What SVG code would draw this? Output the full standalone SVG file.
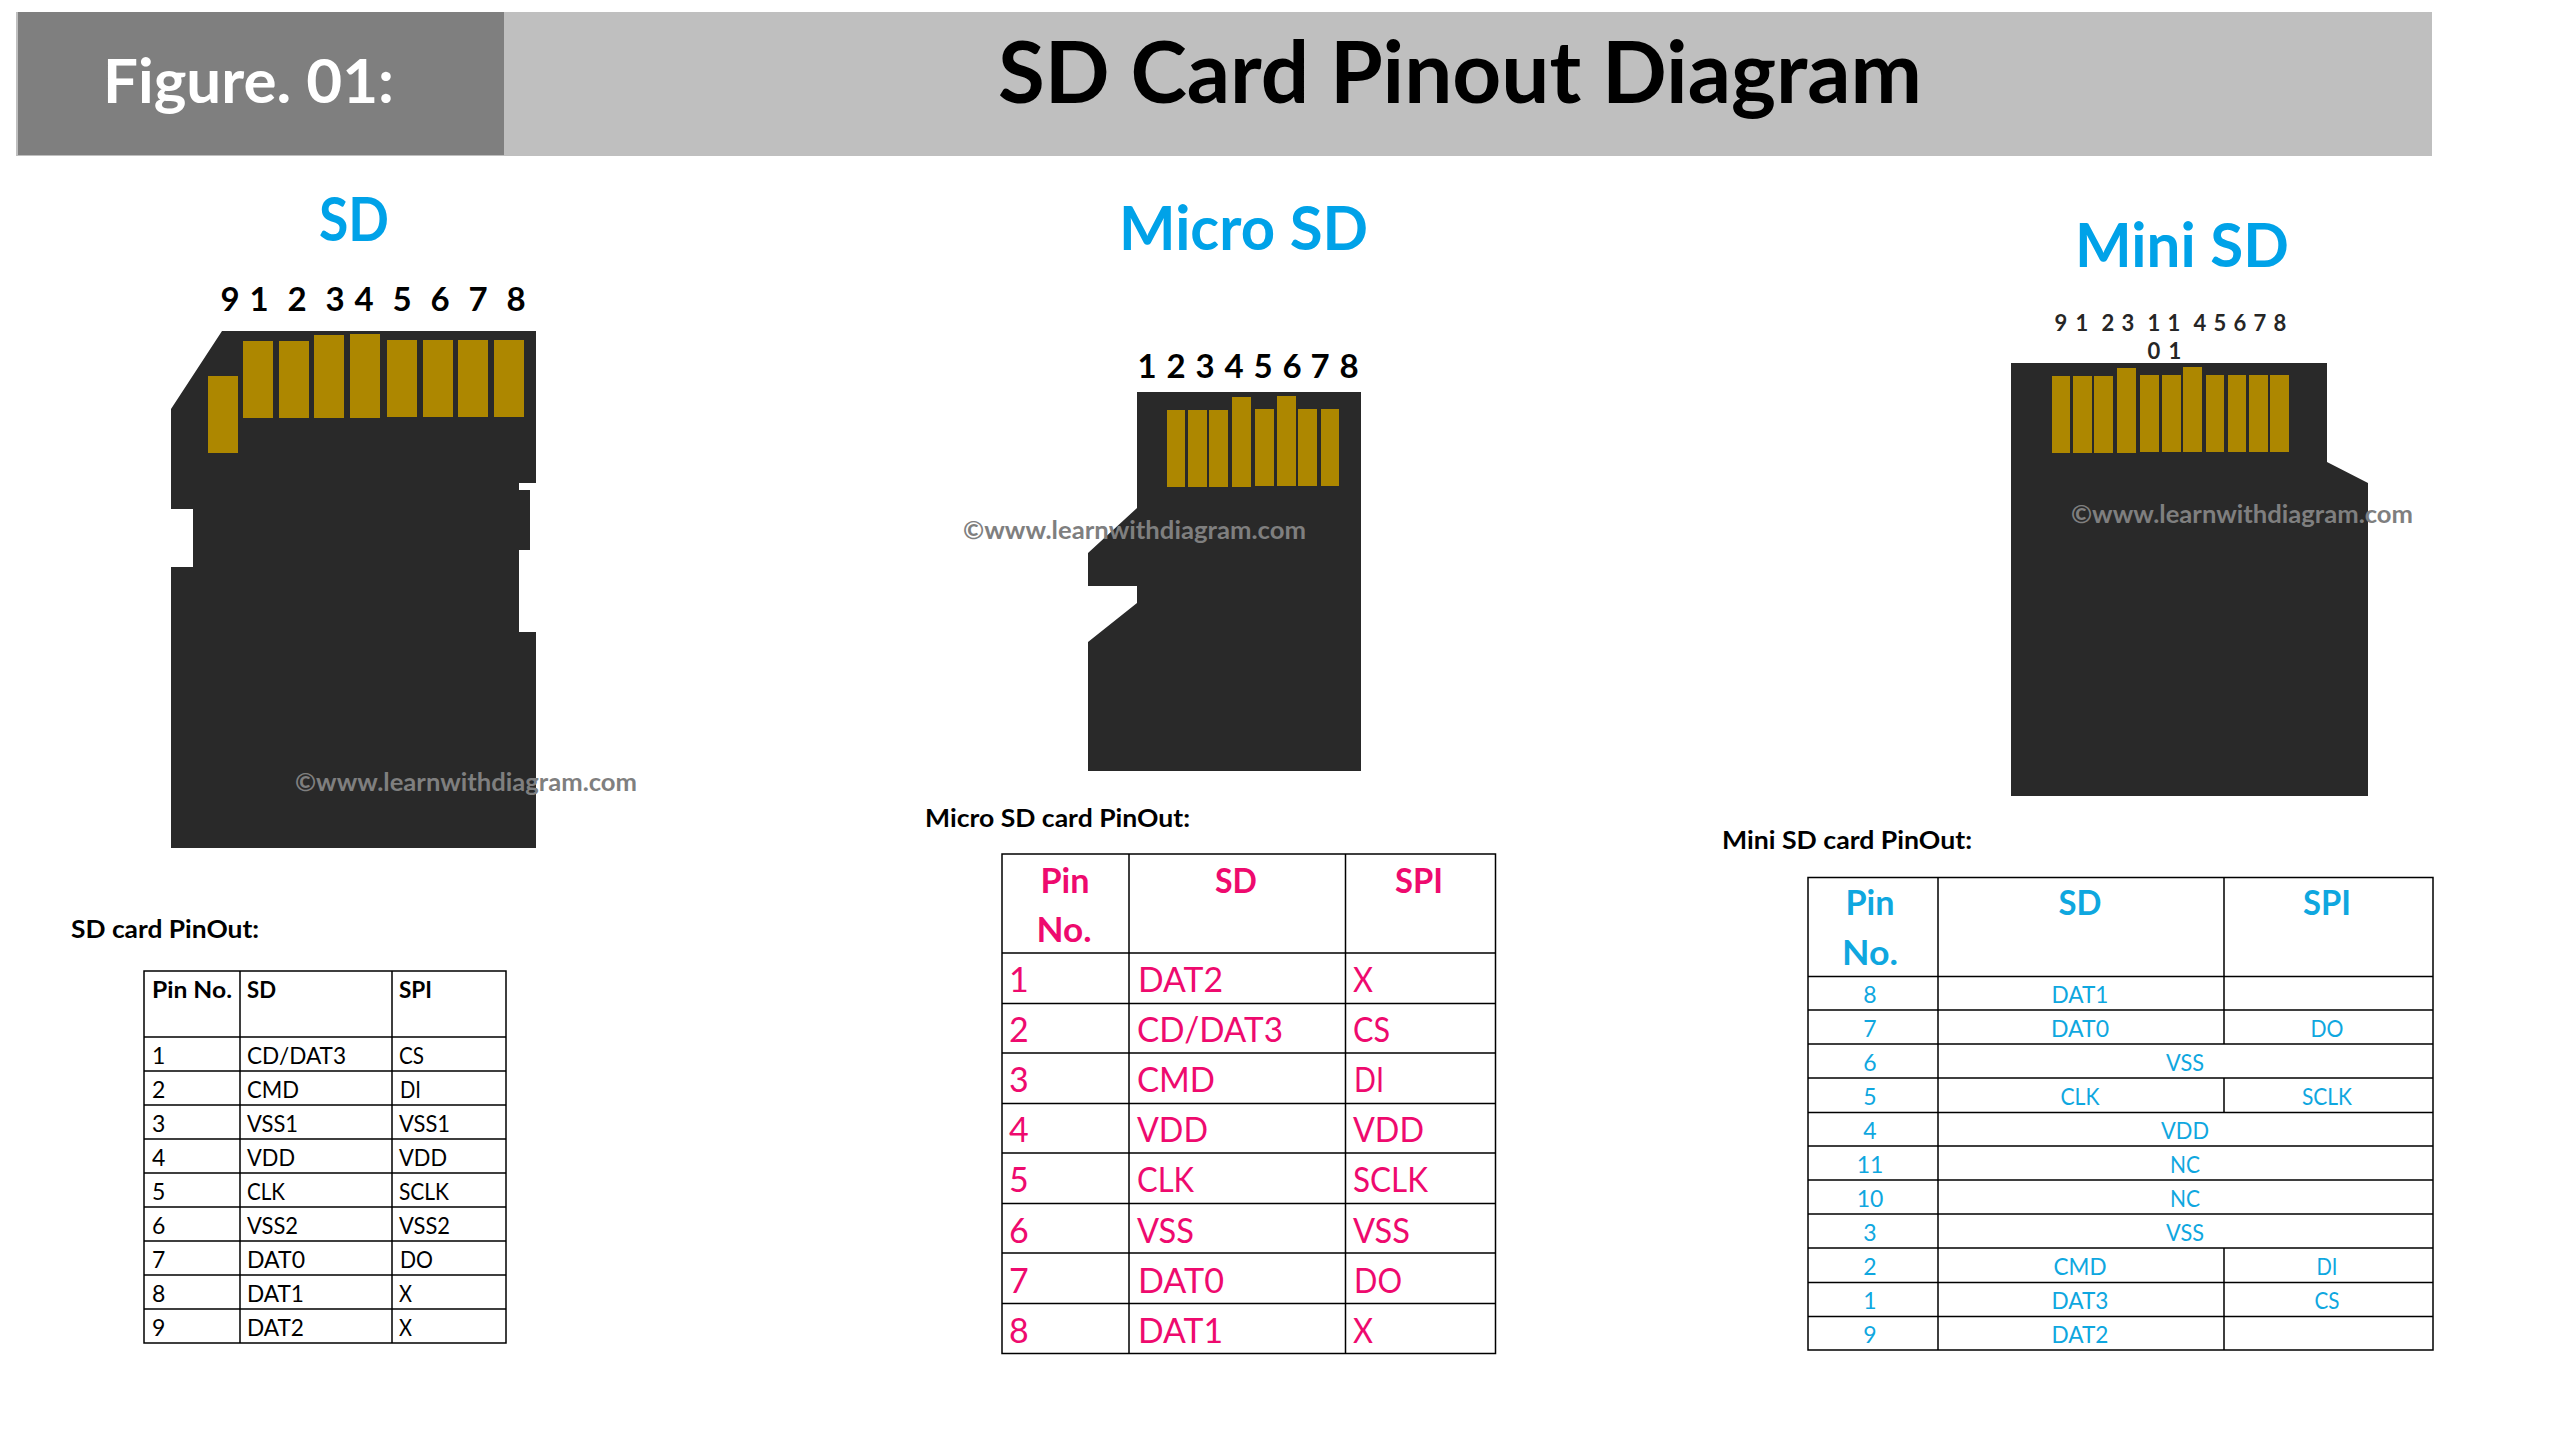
<svg xmlns="http://www.w3.org/2000/svg" width="2560" height="1440" viewBox="0 0 2560 1440">
<style>
text{font-family:Lato,"Open Sans","Liberation Sans",sans-serif;font-kerning:normal}
.b{font-weight:700}
.m{text-anchor:middle}
.card{fill:#292929}
.pin{fill:#ad8700}
.title{font-size:61px;font-weight:700;fill:#00a2e8}
.num{font-size:33px;font-weight:700;fill:#000;text-anchor:middle}
.num2{font-size:22px;font-weight:700;fill:#262626;text-anchor:middle}
.wm{font-size:25px;font-weight:700;fill:#7f7f7f}
.cap{font-size:25px;font-weight:700;fill:#000}
.grid{fill:none;stroke:#000;stroke-width:1.5}
.t1{font-size:23px;fill:#000}
.t2{font-size:34px;fill:#ee0a6e}
.t3{font-size:23px;fill:#0fa7df;text-anchor:middle}
.t3h{font-size:35px;font-weight:700;fill:#0fa7df;text-anchor:middle}
.t2h{font-size:35px;font-weight:700;fill:#ee0a6e;text-anchor:middle}
</style>
<rect width="2560" height="1440" fill="#fff"/>
<g id="header">
<rect x="16" y="12" width="2416" height="144" fill="#bfbfbf"/>
<rect x="18" y="12" width="486" height="143" fill="#7f7f7f"/>
<text x="103" y="103" class="b" font-size="61" fill="#fff" textLength="291" lengthAdjust="spacingAndGlyphs">Figure. 01:</text>
<text x="998" y="103" class="b" font-size="86" fill="#000" textLength="924" lengthAdjust="spacingAndGlyphs">SD Card Pinout Diagram</text>
</g>
<g id="sd-card">
<text x="319" y="241" class="title" textLength="70" lengthAdjust="spacingAndGlyphs">SD</text>
<text class="num" x="230" y="311">9</text><text class="num" x="259" y="311">1</text><text class="num" x="297" y="311">2</text><text class="num" x="335" y="311">3</text><text class="num" x="364" y="311">4</text><text class="num" x="402" y="311">5</text><text class="num" x="440" y="311">6</text><text class="num" x="478" y="311">7</text><text class="num" x="516" y="311">8</text>
<path class="card" d="M222 331H536V483H519V490H530V550H519V632H536V848H171V567H193V509H171V409Z"/>
<g class="pin">
<rect x="208" y="376" width="30" height="77"/><rect x="243" y="341" width="30" height="77"/><rect x="279" y="341" width="30" height="77"/><rect x="314" y="335" width="30" height="83"/><rect x="350" y="334" width="30" height="84"/><rect x="387" y="340" width="30" height="77"/><rect x="423" y="340" width="30" height="77"/><rect x="458" y="340" width="30" height="77"/><rect x="494" y="340" width="30" height="77"/>
</g>
<text x="295" y="791" class="wm" textLength="342" lengthAdjust="spacingAndGlyphs">©www.learnwithdiagram.com</text>
</g>
<g id="micro-sd-card">
<text x="1119" y="250" class="title" textLength="249" lengthAdjust="spacingAndGlyphs">Micro SD</text>
<text class="num" x="1147" y="378">1</text><text class="num" x="1176" y="378">2</text><text class="num" x="1205" y="378">3</text><text class="num" x="1234" y="378">4</text><text class="num" x="1263" y="378">5</text><text class="num" x="1292" y="378">6</text><text class="num" x="1320" y="378">7</text><text class="num" x="1349" y="378">8</text>
<path class="card" d="M1137 392H1361V771H1088V642L1137 603V586H1088V553L1137 508Z"/>
<g class="pin">
<rect x="1167" y="410" width="18" height="77"/><rect x="1188" y="410" width="19" height="77"/><rect x="1209" y="410" width="19" height="77"/><rect x="1232" y="397" width="19" height="90"/><rect x="1255" y="409" width="19" height="77"/><rect x="1277" y="396" width="19" height="90"/><rect x="1298" y="409" width="19" height="77"/><rect x="1321" y="409" width="18" height="77"/>
</g>
<text x="963" y="539" class="wm" textLength="343" lengthAdjust="spacingAndGlyphs">©www.learnwithdiagram.com</text>
</g>
<g id="mini-sd-card">
<text x="2075" y="267" class="title" textLength="214" lengthAdjust="spacingAndGlyphs">Mini SD</text>
<text class="num2" x="2061" y="331">9</text><text class="num2" x="2082" y="331">1</text><text class="num2" x="2108" y="331">2</text><text class="num2" x="2128" y="331">3</text><text class="num2" x="2154" y="331">1</text><text class="num2" x="2174" y="331">1</text><text class="num2" x="2200" y="331">4</text><text class="num2" x="2220" y="331">5</text><text class="num2" x="2240" y="331">6</text><text class="num2" x="2260" y="331">7</text><text class="num2" x="2280" y="331">8</text>
<text class="num2" x="2154" y="359">0</text><text class="num2" x="2175" y="359">1</text>
<path class="card" d="M2011 363H2327V462L2368 483V796H2011Z"/>
<g class="pin">
<rect x="2052" y="376" width="18" height="77"/><rect x="2073" y="376" width="19" height="77"/><rect x="2094" y="376" width="19" height="77"/><rect x="2117" y="368" width="19" height="85"/><rect x="2140" y="375" width="19" height="77"/><rect x="2162" y="375" width="19" height="77"/><rect x="2183" y="367" width="19" height="85"/><rect x="2206" y="375" width="18" height="77"/><rect x="2228" y="375" width="18" height="77"/><rect x="2249" y="375" width="19" height="77"/><rect x="2270" y="375" width="19" height="77"/>
</g>
<text x="2071" y="523" class="wm" textLength="342" lengthAdjust="spacingAndGlyphs">©www.learnwithdiagram.com</text>
</g>
<g id="sd-table">
<text x="71" y="938" class="cap" textLength="188" lengthAdjust="spacingAndGlyphs">SD card PinOut:</text>
<path class="grid" d="M144 971H506V1343H144ZM240 971V1343M392 971V1343M144 1037H506M144 1071H506M144 1105H506M144 1139H506M144 1173H506M144 1207H506M144 1241H506M144 1275H506M144 1309H506"/>
<text class="t1 b" x="152" y="998" textLength="80" lengthAdjust="spacingAndGlyphs">Pin No.</text><text class="t1 b" x="247" y="998" textLength="29" lengthAdjust="spacingAndGlyphs">SD</text><text class="t1 b" x="399" y="998" textLength="33" lengthAdjust="spacingAndGlyphs">SPI</text>
<text class="t1" x="152" y="1064">1</text><text class="t1" x="247" y="1064" textLength="99" lengthAdjust="spacingAndGlyphs">CD/DAT3</text><text class="t1" x="399" y="1064" textLength="25" lengthAdjust="spacingAndGlyphs">CS</text>
<text class="t1" x="152" y="1098">2</text><text class="t1" x="247" y="1098" textLength="52" lengthAdjust="spacingAndGlyphs">CMD</text><text class="t1" x="400" y="1098" textLength="21" lengthAdjust="spacingAndGlyphs">DI</text>
<text class="t1" x="152" y="1132">3</text><text class="t1" x="247" y="1132" textLength="51" lengthAdjust="spacingAndGlyphs">VSS1</text><text class="t1" x="399" y="1132" textLength="51" lengthAdjust="spacingAndGlyphs">VSS1</text>
<text class="t1" x="152" y="1166">4</text><text class="t1" x="247" y="1166" textLength="48" lengthAdjust="spacingAndGlyphs">VDD</text><text class="t1" x="399" y="1166" textLength="48" lengthAdjust="spacingAndGlyphs">VDD</text>
<text class="t1" x="152" y="1200">5</text><text class="t1" x="247" y="1200" textLength="38" lengthAdjust="spacingAndGlyphs">CLK</text><text class="t1" x="399" y="1200" textLength="50" lengthAdjust="spacingAndGlyphs">SCLK</text>
<text class="t1" x="152" y="1234">6</text><text class="t1" x="247" y="1234" textLength="51" lengthAdjust="spacingAndGlyphs">VSS2</text><text class="t1" x="399" y="1234" textLength="51" lengthAdjust="spacingAndGlyphs">VSS2</text>
<text class="t1" x="152" y="1268">7</text><text class="t1" x="247" y="1268" textLength="58" lengthAdjust="spacingAndGlyphs">DAT0</text><text class="t1" x="400" y="1268" textLength="33" lengthAdjust="spacingAndGlyphs">DO</text>
<text class="t1" x="152" y="1302">8</text><text class="t1" x="247" y="1302" textLength="57" lengthAdjust="spacingAndGlyphs">DAT1</text><text class="t1" x="399" y="1302" textLength="13" lengthAdjust="spacingAndGlyphs">X</text>
<text class="t1" x="152" y="1336">9</text><text class="t1" x="247" y="1336" textLength="57" lengthAdjust="spacingAndGlyphs">DAT2</text><text class="t1" x="399" y="1336" textLength="13" lengthAdjust="spacingAndGlyphs">X</text>
</g>
<g id="micro-sd-table">
<text x="925" y="827" class="cap" textLength="265" lengthAdjust="spacingAndGlyphs">Micro SD card PinOut:</text>
<path class="grid" d="M1002 854H1495.500V1353.500H1002ZM1129 854V1353.500M1345.500 854V1353.500M1002 953H1495.500M1002 1003.500H1495.500M1002 1053H1495.500M1002 1103.500H1495.500M1002 1153H1495.500M1002 1203.500H1495.500M1002 1253H1495.500M1002 1303.500H1495.500"/>
<text class="t2h" x="1065" y="893" textLength="49" lengthAdjust="spacingAndGlyphs">Pin</text><text class="t2h" x="1064" y="942" textLength="55" lengthAdjust="spacingAndGlyphs">No.</text><text class="t2h" x="1236" y="893" textLength="42" lengthAdjust="spacingAndGlyphs">SD</text><text class="t2h" x="1419" y="893" textLength="48" lengthAdjust="spacingAndGlyphs">SPI</text>
<text class="t2" x="1009" y="992">1</text><text class="t2" x="1138" y="992" textLength="85" lengthAdjust="spacingAndGlyphs">DAT2</text><text class="t2" x="1353" y="992" textLength="20" lengthAdjust="spacingAndGlyphs">X</text>
<text class="t2" x="1009" y="1042">2</text><text class="t2" x="1137" y="1042" textLength="146" lengthAdjust="spacingAndGlyphs">CD/DAT3</text><text class="t2" x="1353" y="1042" textLength="37" lengthAdjust="spacingAndGlyphs">CS</text>
<text class="t2" x="1009" y="1092">3</text><text class="t2" x="1137" y="1092" textLength="78" lengthAdjust="spacingAndGlyphs">CMD</text><text class="t2" x="1354" y="1092" textLength="30" lengthAdjust="spacingAndGlyphs">DI</text>
<text class="t2" x="1009" y="1142">4</text><text class="t2" x="1137" y="1142" textLength="71" lengthAdjust="spacingAndGlyphs">VDD</text><text class="t2" x="1353" y="1142" textLength="71" lengthAdjust="spacingAndGlyphs">VDD</text>
<text class="t2" x="1009" y="1192">5</text><text class="t2" x="1137" y="1192" textLength="57" lengthAdjust="spacingAndGlyphs">CLK</text><text class="t2" x="1353" y="1192" textLength="75" lengthAdjust="spacingAndGlyphs">SCLK</text>
<text class="t2" x="1009" y="1243">6</text><text class="t2" x="1137" y="1243" textLength="57" lengthAdjust="spacingAndGlyphs">VSS</text><text class="t2" x="1353" y="1243" textLength="57" lengthAdjust="spacingAndGlyphs">VSS</text>
<text class="t2" x="1009" y="1293">7</text><text class="t2" x="1138" y="1293" textLength="86" lengthAdjust="spacingAndGlyphs">DAT0</text><text class="t2" x="1354" y="1293" textLength="48" lengthAdjust="spacingAndGlyphs">DO</text>
<text class="t2" x="1009" y="1343">8</text><text class="t2" x="1138" y="1343" textLength="85" lengthAdjust="spacingAndGlyphs">DAT1</text><text class="t2" x="1353" y="1343" textLength="20" lengthAdjust="spacingAndGlyphs">X</text>
</g>
<g id="mini-sd-table">
<text x="1722" y="849" class="cap" textLength="250" lengthAdjust="spacingAndGlyphs">Mini SD card PinOut:</text>
<path class="grid" d="M1808 877.500H2433V1350H1808ZM1938 877.500V1044M2224 877.500V1044M1938 1044V1350M2224 1078V1112.500M2224 1248V1350M1808 976.500H2433M1808 1010H2433M1808 1044H2433M1808 1078H2433M1808 1112.500H2433M1808 1146H2433M1808 1180H2433M1808 1214H2433M1808 1248H2433M1808 1282.500H2433M1808 1316.500H2433"/>
<text class="t3h" x="1870" y="915" textLength="49" lengthAdjust="spacingAndGlyphs">Pin</text><text class="t3h" x="1870" y="965" textLength="56" lengthAdjust="spacingAndGlyphs">No.</text><text class="t3h" x="2080" y="915" textLength="43" lengthAdjust="spacingAndGlyphs">SD</text><text class="t3h" x="2327" y="915" textLength="48" lengthAdjust="spacingAndGlyphs">SPI</text>
<text class="t3" x="1870" y="1003">8</text><text class="t3" x="2080" y="1003" textLength="57" lengthAdjust="spacingAndGlyphs">DAT1</text>
<text class="t3" x="1870" y="1037">7</text><text class="t3" x="2080" y="1037" textLength="58" lengthAdjust="spacingAndGlyphs">DAT0</text><text class="t3" x="2327" y="1037" textLength="33" lengthAdjust="spacingAndGlyphs">DO</text>
<text class="t3" x="1870" y="1071">6</text><text class="t3" x="2185" y="1071" textLength="38" lengthAdjust="spacingAndGlyphs">VSS</text>
<text class="t3" x="1870" y="1105">5</text><text class="t3" x="2080" y="1105" textLength="39" lengthAdjust="spacingAndGlyphs">CLK</text><text class="t3" x="2327" y="1105" textLength="50" lengthAdjust="spacingAndGlyphs">SCLK</text>
<text class="t3" x="1870" y="1139">4</text><text class="t3" x="2185" y="1139" textLength="48" lengthAdjust="spacingAndGlyphs">VDD</text>
<text class="t3" x="1870" y="1173">11</text><text class="t3" x="2185" y="1173" textLength="30" lengthAdjust="spacingAndGlyphs">NC</text>
<text class="t3" x="1870" y="1207">10</text><text class="t3" x="2185" y="1207" textLength="30" lengthAdjust="spacingAndGlyphs">NC</text>
<text class="t3" x="1870" y="1241">3</text><text class="t3" x="2185" y="1241" textLength="38" lengthAdjust="spacingAndGlyphs">VSS</text>
<text class="t3" x="1870" y="1275">2</text><text class="t3" x="2080" y="1275" textLength="53" lengthAdjust="spacingAndGlyphs">CMD</text><text class="t3" x="2327" y="1275" textLength="21" lengthAdjust="spacingAndGlyphs">DI</text>
<text class="t3" x="1870" y="1309">1</text><text class="t3" x="2080" y="1309" textLength="57" lengthAdjust="spacingAndGlyphs">DAT3</text><text class="t3" x="2327" y="1309" textLength="25" lengthAdjust="spacingAndGlyphs">CS</text>
<text class="t3" x="1870" y="1343">9</text><text class="t3" x="2080" y="1343" textLength="57" lengthAdjust="spacingAndGlyphs">DAT2</text>
</g>
</svg>
